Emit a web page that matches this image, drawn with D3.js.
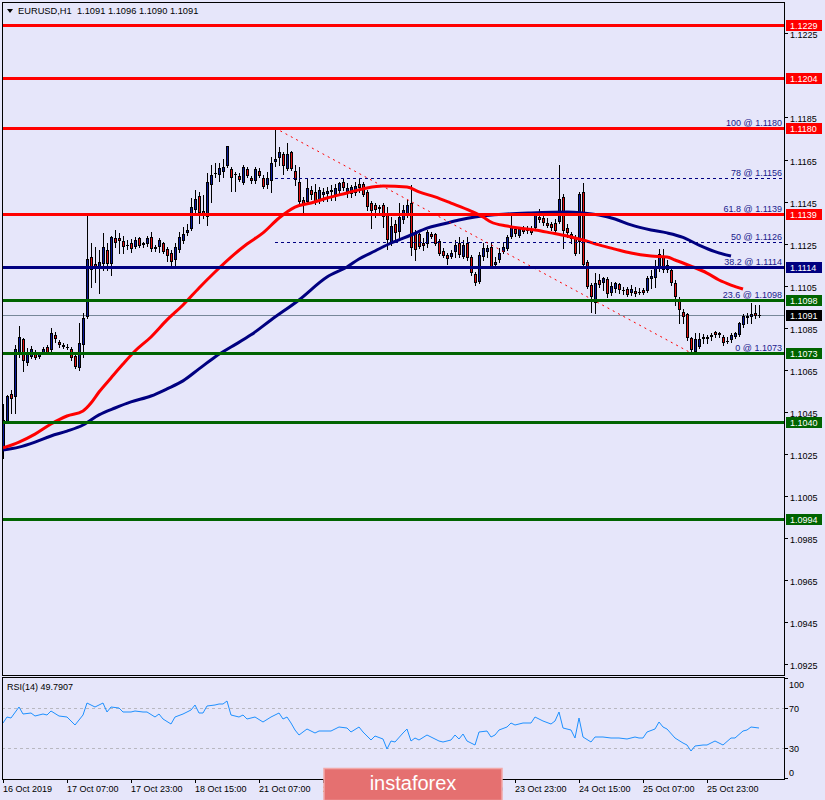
<!DOCTYPE html>
<html><head><meta charset="utf-8">
<script src="https://d3js.org/d3.v7.min.js"></script>
<style>
body{margin:0;background:#E6E6FA;}
svg{display:block;}
text{font-family:"Liberation Sans",Arial,sans-serif;}
</style>
</head><body>
<svg id="c" width="825" height="800"></svg>
<script>
// ---------------- DATA ----------------
const symbolTitle = "EURUSD,H1";
const lastQuote = ["1.1091", "1.1096", "1.1090", "1.1091"];
const rsiTitle = "RSI(14) 49.7907";
const timeLabels = ["16 Oct 2019","17 Oct 07:00","17 Oct 23:00","18 Oct 15:00","21 Oct 07:00","21 Oct 23:00",
  "22 Oct 15:00","23 Oct 07:00","23 Oct 23:00","24 Oct 15:00","25 Oct 07:00","25 Oct 23:00"];
const timeLabelBars = [0,16,32,48,64,80,96,112,128,144,160,176];

const opens = [
1.10268,1.10402,1.10535,1.10521,1.10725,1.10796,1.10682,1.10711,1.10729,1.10711,
1.10729,1.10758,1.10744,1.10816,1.10782,1.10758,1.10758,1.10749,1.10715,1.10658,
1.10768,1.10901,1.11186,1.11153,1.11139,1.11153,1.11220,1.11153,1.11277,1.11277,
1.11263,1.11244,1.11253,1.11234,1.11277,1.11253,1.11248,1.11282,1.11234,1.11234,
1.11253,1.11224,1.11205,1.11172,1.11220,1.11263,1.11301,1.11320,1.11410,1.11477,
1.11405,1.11377,1.11529,1.11586,1.11577,1.11591,1.11619,1.11605,1.11581,1.11572,
1.11538,1.11605,1.11562,1.11548,1.11596,1.11562,1.11529,1.11548,1.11638,1.11657,
1.11676,1.11605,1.11686,1.11596,1.11543,1.11458,1.11448,1.11505,1.11496,1.11453,
1.11481,1.11486,1.11505,1.11481,1.11500,1.11543,1.11496,1.11486,1.11491,1.11534,
1.11534,1.11496,1.11443,1.11434,1.11424,1.11434,1.11396,1.11253,1.11343,1.11305,
1.11362,1.11391,1.11443,1.11305,1.11296,1.11253,1.11248,1.11296,1.11296,1.11263,
1.11215,1.11196,1.11186,1.11210,1.11253,1.11186,1.11253,1.11186,1.11105,1.11067,
1.11186,1.11210,1.11234,1.11148,1.11172,1.11210,1.11224,1.11282,1.11320,1.11286,
1.11324,1.11310,1.11320,1.11324,1.11377,1.11372,1.11348,1.11343,1.11348,1.11353,
1.11472,1.11324,1.11296,1.11282,1.11258,1.11496,1.11162,1.11053,1.10968,1.11077,
1.11062,1.11081,1.11015,1.11034,1.11058,1.11029,1.11034,1.11015,1.11024,1.11019,
1.11029,1.11024,1.11081,1.11086,1.11129,1.11191,1.11148,1.11124,1.11062,1.10986,
1.10925,1.10915,1.10801,1.10735,1.10758,1.10796,1.10806,1.10806,1.10830,1.10825,
1.10806,1.10787,1.10792,1.10806,1.10816,1.10863,1.10896,1.10901,1.10920,1.10910];

const highs = [
1.10487,1.10530,1.10553,1.10768,1.10858,1.10800,1.10753,1.10763,1.10744,1.10734,
1.10758,1.10768,1.10849,1.10830,1.10792,1.10777,1.10772,1.10758,1.10729,1.10873,
1.10920,1.11396,1.11253,1.11234,1.11220,1.11301,1.11253,1.11286,1.11315,1.11301,
1.11286,1.11267,1.11272,1.11282,1.11282,1.11258,1.11286,1.11305,1.11244,1.11277,
1.11258,1.11234,1.11220,1.11253,1.11305,1.11329,1.11343,1.11467,1.11505,1.11496,
1.11481,1.11586,1.11624,1.11633,1.11633,1.11653,1.11716,1.11615,1.11591,1.11586,
1.11624,1.11615,1.11572,1.11615,1.11610,1.11577,1.11591,1.11662,1.11800,1.11710,
1.11686,1.11729,1.11691,1.11624,1.11615,1.11472,1.11562,1.11524,1.11534,1.11519,
1.11515,1.11519,1.11529,1.11534,1.11543,1.11562,1.11538,1.11529,1.11543,1.11562,
1.11543,1.11505,1.11453,1.11443,1.11434,1.11443,1.11424,1.11377,1.11362,1.11443,
1.11434,1.11458,1.11529,1.11315,1.11301,1.11277,1.11315,1.11305,1.11301,1.11272,
1.11229,1.11205,1.11220,1.11267,1.11282,1.11267,1.11282,1.11196,1.11115,1.11210,
1.11253,1.11244,1.11258,1.11186,1.11229,1.11258,1.11291,1.11396,1.11329,1.11329,
1.11334,1.11334,1.11334,1.11396,1.11415,1.11382,1.11372,1.11353,1.11367,1.11624,
1.11486,1.11343,1.11305,1.11291,1.11496,1.11538,1.11172,1.11062,1.11110,1.11105,
1.11091,1.11091,1.11067,1.11067,1.11062,1.11043,1.11043,1.11053,1.11043,1.11038,
1.11038,1.11096,1.11124,1.11172,1.11224,1.11224,1.11172,1.11134,1.11077,1.10996,
1.10939,1.10920,1.10806,1.10825,1.10825,1.10820,1.10816,1.10825,1.10835,1.10830,
1.10816,1.10806,1.10825,1.10830,1.10877,1.10915,1.10920,1.10968,1.10958,1.10960];

const lows = [
1.10230,1.10395,1.10444,1.10444,1.10711,1.10644,1.10673,1.10706,1.10701,1.10706,
1.10725,1.10725,1.10734,1.10782,1.10758,1.10753,1.10749,1.10697,1.10658,1.10649,
1.10711,1.10896,1.11043,1.11067,1.11015,1.11124,1.11124,1.11101,1.11234,1.11205,
1.11205,1.11224,1.11210,1.11229,1.11234,1.11234,1.11239,1.11215,1.11215,1.11210,
1.11205,1.11167,1.11139,1.11139,1.11210,1.11253,1.11291,1.11315,1.11396,1.11348,
1.11372,1.11339,1.11448,1.11567,1.11548,1.11567,1.11615,1.11500,1.11500,1.11548,
1.11534,1.11567,1.11538,1.11538,1.11567,1.11515,1.11515,1.11496,1.11619,1.11624,
1.11581,1.11600,1.11600,1.11529,1.11443,1.11386,1.11443,1.11462,1.11439,1.11443,
1.11453,1.11453,1.11458,1.11458,1.11481,1.11505,1.11472,1.11472,1.11481,1.11496,
1.11477,1.11410,1.11324,1.11377,1.11386,1.11329,1.11224,1.11244,1.11267,1.11267,
1.11348,1.11377,1.11196,1.11172,1.11229,1.11220,1.11234,1.11277,1.11244,1.11196,
1.11186,1.11153,1.11182,1.11186,1.11186,1.11182,1.11172,1.11101,1.11053,1.11062,
1.11172,1.11186,1.11134,1.11139,1.11162,1.11205,1.11220,1.11277,1.11286,1.11282,
1.11301,1.11301,1.11296,1.11320,1.11353,1.11339,1.11329,1.11315,1.11305,1.11348,
1.11229,1.11282,1.11253,1.11196,1.11205,1.11148,1.11038,1.10925,1.10920,1.11043,
1.11029,1.10996,1.11005,1.11019,1.11015,1.11010,1.11001,1.11005,1.11001,1.11010,
1.11010,1.11019,1.11039,1.11043,1.11119,1.11115,1.11115,1.11053,1.10958,1.10873,
1.10873,1.10792,1.10730,1.10732,1.10753,1.10777,1.10777,1.10792,1.10806,1.10806,
1.10768,1.10777,1.10782,1.10801,1.10811,1.10854,1.10873,1.10873,1.10896,1.10900];

const closes = [
1.10410,1.10525,1.10511,1.10749,1.10806,1.10692,1.10729,1.10749,1.10706,1.10725,
1.10749,1.10729,1.10825,1.10796,1.10768,1.10768,1.10758,1.10706,1.10663,1.10777,
1.10896,1.11177,1.11124,1.11134,1.11162,1.11234,1.11153,1.11282,1.11253,1.11263,
1.11234,1.11244,1.11224,1.11267,1.11239,1.11244,1.11277,1.11224,1.11224,1.11267,
1.11210,1.11191,1.11162,1.11234,1.11282,1.11296,1.11315,1.11424,1.11462,1.11396,
1.11382,1.11543,1.11577,1.11586,1.11610,1.11615,1.11714,1.11562,1.11581,1.11553,
1.11615,1.11572,1.11548,1.11605,1.11572,1.11519,1.11562,1.11633,1.11653,1.11686,
1.11619,1.11676,1.11605,1.11553,1.11448,1.11439,1.11515,1.11481,1.11448,1.11505,
1.11496,1.11500,1.11496,1.11515,1.11538,1.11515,1.11515,1.11519,1.11524,1.11515,
1.11481,1.11424,1.11405,1.11410,1.11415,1.11377,1.11267,1.11334,1.11301,1.11377,
1.11410,1.11434,1.11229,1.11220,1.11234,1.11239,1.11305,1.11282,1.11248,1.11201,
1.11191,1.11177,1.11205,1.11244,1.11196,1.11244,1.11182,1.11110,1.11062,1.11196,
1.11229,1.11229,1.11139,1.11162,1.11205,1.11234,1.11282,1.11329,1.11296,1.11320,
1.11305,1.11324,1.11301,1.11386,1.11362,1.11348,1.11334,1.11324,1.11310,1.11462,
1.11310,1.11301,1.11272,1.11201,1.11486,1.11148,1.11043,1.10996,1.11062,1.11053,
1.11086,1.11010,1.11048,1.11062,1.11029,1.11029,1.11005,1.11034,1.11010,1.11019,
1.11015,1.11086,1.11096,1.11139,1.11201,1.11124,1.11124,1.11062,1.10996,1.10934,
1.10901,1.10801,1.10744,1.10796,1.10796,1.10806,1.10796,1.10816,1.10816,1.10816,
1.10777,1.10787,1.10816,1.10825,1.10873,1.10906,1.10906,1.10915,1.10906,1.10910];

// moving averages (at these bars)
const redMaBars = [0,4,8,12,16,20,22,24,27,30,33,37,41,45,49,53,57,61,65,69,73,77,81,86,91,95,101,104,108,112,117,120,122,126,129,133,137,141,145,149,153,157,162,166,168,172,176,179,182,185];
const redMaVals = [1.10278,1.10306,1.10344,1.10392,1.10430,1.10454,1.10492,1.10544,1.10611,1.10677,1.10739,1.10806,1.10887,1.10958,1.11039,1.11115,1.11186,1.11248,1.11301,1.11372,1.11424,1.11443,1.11467,1.11491,1.11515,1.11524,1.11519,1.11496,1.11472,1.11443,1.11405,1.11377,1.11353,1.11334,1.11324,1.11315,1.11301,1.11286,1.11267,1.11244,1.11224,1.11205,1.11191,1.11186,1.11172,1.11143,1.11110,1.11077,1.11053,1.11034];
const navyMaBars = [0,4,8,12,16,20,24,28,32,37,41,45,49,53,57,62,67,74,81,86,89,93,97,102,106,110,114,118,126,132,141,145,149,153,157,162,166,170,174,178,182];
const navyMaVals = [1.10268,1.10282,1.10306,1.10335,1.10358,1.10387,1.10435,1.10468,1.10497,1.10525,1.10559,1.10597,1.10654,1.10711,1.10758,1.10816,1.10887,1.10982,1.11091,1.11139,1.11177,1.11215,1.11253,1.11291,1.11324,1.11343,1.11362,1.11377,1.11391,1.11396,1.11400,1.11396,1.11386,1.11367,1.11339,1.11315,1.11301,1.11280,1.11243,1.11212,1.11191];

// RSI(14)
const rsiBars = [0,1,2,4,5,7,8,10,11,12,14,16,18,20,21,23,25,26,27,29,30,32,33,35,36,38,39,40,42,43,45,47,48,49,50,51,53,54,55,56,57,59,60,61,63,65,67,69,70,71,72,73,74,76,78,79,82,84,86,87,89,90,92,93,95,96,97,98,100,101,102,103,104,106,107,109,110,112,113,114,115,116,118,119,121,122,123,124,126,127,128,130,132,133,135,137,138,139,140,142,143,144,145,147,148,150,152,154,156,158,159,160,161,163,164,165,166,168,170,171,172,173,175,176,178,180,182,183,185,186,187,189];
const rsiVals = [55,61,60,71,64,65,62,64,63,67,62,61,53,63,75,71,75,66,71,70,66,66,67,66,66,61,64,59,54,61,64,68,73,65,65,72,73,74,74,77,63,61,63,59,61,56,61,65,59,61,55,48,43,49,45,47,47,51,50,46,51,46,38,42,39,29,37,36,45,49,37,40,38,43,41,37,36,38,43,39,44,37,33,46,47,41,43,48,51,55,53,55,55,61,57,54,57,66,50,48,40,60,41,36,41,41,40,40,39,41,40,40,46,49,56,51,49,40,35,33,27,32,33,33,37,33,40,40,47,48,51,50];
const rsiTicks = [100,70,30,0];
const rsiLevels = [70,30];

// horizontal levels
const redLevels = [1.1229,1.1204,1.1180,1.1139];
const navyLevels = [1.1114];
const greenLevels = [1.1098,1.1073,1.1040,1.0994];
const bidPrice = 1.1091;
const priceTicks = [1.0925,1.0945,1.0965,1.0985,1.1005,1.1025,1.1045,1.1065,1.1085,1.1105,1.1125,1.1145,1.1165,1.1185,1.1225];

// fibonacci retracement
const fibRatios = ["100","78","61.8","50","38.2","23.6","0"];
const fibPrices = [1.1180,1.1156,1.1139,1.1126,1.1114,1.1098,1.1073];
const fibStartBar = 68, fibEndBar = 172;

// ---------------- CHART ----------------
const W = 825, H = 800;
const L = 2, R = 784, mainT = 2, mainB = 675, rsiT = 677, rsiB = 779;
const BG = "#E6E6FA";
const svg = d3.select("#c");
svg.append("rect").attr("width", W).attr("height", H).attr("fill", BG);

const x = d3.scaleLinear().domain([0, 189]).range([3, 759]);
const y = d3.scaleLinear().domain([1.0994, 1.1229]).range([519, 25]);
const yR = d3.scaleLinear().domain([0, 100]).range([778, 678]);

const defs = svg.append("defs");
defs.append("clipPath").attr("id", "mc").append("rect")
  .attr("x", L + 1).attr("y", mainT + 1).attr("width", R - L - 1).attr("height", mainB - mainT - 1);
defs.append("clipPath").attr("id", "rc").append("rect")
  .attr("x", L + 1).attr("y", rsiT + 1).attr("width", R - L - 1).attr("height", rsiB - rsiT - 1);

const gm = svg.append("g").attr("clip-path", "url(#mc)");
const gr = svg.append("g").attr("clip-path", "url(#rc)");

// bid line
gm.append("line").attr("x1", L).attr("x2", R)
  .attr("y1", Math.round(y(bidPrice)) + 0.5).attr("y2", Math.round(y(bidPrice)) + 0.5)
  .attr("stroke", "#778899").attr("stroke-width", 1);

// candles
const bars = d3.range(opens.length).map(i => ({i, o: opens[i], h: highs[i], l: lows[i], c: closes[i]}));
const gc = gm.append("g");
bars.forEach(d => {
  const cx = Math.round(x(d.i));
  gc.append("line").attr("x1", cx + 0.5).attr("x2", cx + 0.5)
    .attr("y1", Math.round(y(d.h))).attr("y2", Math.round(y(d.l)) + 1)
    .attr("stroke", "#000").attr("stroke-width", 1);
  const top = Math.round(y(Math.max(d.o, d.c)));
  const bot = Math.round(y(Math.min(d.o, d.c)));
  if (bot - top >= 2) {
    gc.append("rect").attr("x", cx - 0.5).attr("y", top + 0.5)
      .attr("width", 2).attr("height", bot - top - 1)
      .attr("fill", d.c >= d.o ? "#0a1a9a" : "#e01010")
      .attr("stroke", "#000").attr("stroke-width", 1);
  } else {
    gc.append("line").attr("x1", cx - 1).attr("x2", cx + 2)
      .attr("y1", top + 0.5).attr("y2", top + 0.5)
      .attr("stroke", "#000").attr("stroke-width", 1);
  }
});

// moving averages
const maLine = d3.line().x(d => x(d[0])).y(d => y(d[1])).curve(d3.curveMonotoneX);
gm.append("path").datum(navyMaBars.map((b, k) => [b, navyMaVals[k]]))
  .attr("d", maLine).attr("fill", "none").attr("stroke", "#000080").attr("stroke-width", 3);
gm.append("path").datum(redMaBars.map((b, k) => [b, redMaVals[k]]))
  .attr("d", maLine).attr("fill", "none").attr("stroke", "#ff0000").attr("stroke-width", 3);

// fibonacci level rays
fibPrices.forEach((p, k) => {
  const yy = Math.round(y(p)) + 0.5;
  gm.append("line").attr("x1", x(fibStartBar)).attr("x2", R)
    .attr("y1", yy).attr("y2", yy)
    .attr("stroke", "#000080").attr("stroke-width", 1).attr("stroke-dasharray", "3,3");
});
// fib trendline
gm.append("line")
  .attr("x1", x(fibStartBar)).attr("y1", y(fibPrices[0]))
  .attr("x2", x(fibEndBar)).attr("y2", y(fibPrices[fibPrices.length - 1]))
  .attr("stroke", "#ff0000").attr("stroke-width", 1).attr("stroke-dasharray", "2,4");

// horizontal lines
function hLine(p, col) {
  const yy = Math.round(y(p)) + 0.5;
  gm.append("line").attr("x1", L).attr("x2", R).attr("y1", yy).attr("y2", yy)
    .attr("stroke", col).attr("stroke-width", 3);
}
redLevels.forEach(p => hLine(p, "#ff0000"));
navyLevels.forEach(p => hLine(p, "#000080"));
greenLevels.forEach(p => hLine(p, "#006400"));

// fib labels
fibPrices.forEach((p, k) => {
  gm.append("text").attr("x", R - 2).attr("y", Math.round(y(p)) - 2)
    .attr("text-anchor", "end").attr("font-size", "9px").attr("fill", "#1a1a8c")
    .text(fibRatios[k] + " @ " + p.toFixed(4));
});

// header
svg.append("path").attr("d", "M7,9 L13,9 L10,13 Z").attr("fill", "#000");
svg.append("text").attr("x", 18).attr("y", 14).attr("font-size", "9.3px").attr("fill", "#000")
  .attr("xml:space", "preserve")
  .text(symbolTitle + "  " + lastQuote.join(" "));

// RSI panel
rsiLevels.forEach(v => {
  gr.append("line").attr("x1", L).attr("x2", R)
    .attr("y1", yR(v) + 0.5).attr("y2", yR(v) + 0.5)
    .attr("stroke", "#b8b8c0").attr("stroke-width", 1).attr("stroke-dasharray", "3,3");
});
gr.append("path").datum(rsiBars.map((b, k) => [b, rsiVals[k]]))
  .attr("d", d3.line().x(d => x(d[0])).y(d => yR(d[1])))
  .attr("fill", "none").attr("stroke", "#1e90ff").attr("stroke-width", 1);
svg.append("text").attr("x", 7).attr("y", 690).attr("font-size", "9px").attr("fill", "#000").text(rsiTitle);

// frames
const fr = svg.append("g").attr("stroke", "#000").attr("stroke-width", 1).attr("fill", "none");
fr.append("rect").attr("x", L + 0.5).attr("y", mainT + 0.5).attr("width", R - L).attr("height", mainB - mainT);
fr.append("rect").attr("x", L + 0.5).attr("y", rsiT + 0.5).attr("width", R - L).attr("height", rsiB - rsiT);

// right price axis
priceTicks.forEach(t => {
  const yy = Math.round(y(t)) + 0.5;
  svg.append("line").attr("x1", R).attr("x2", R + 4).attr("y1", yy).attr("y2", yy).attr("stroke", "#000");
  svg.append("text").attr("x", 790).attr("y", yy + 4.5).attr("font-size", "9px").attr("fill", "#000")
    .text(t.toFixed(4));
});
function priceBox(p, col) {
  const yy = Math.round(y(p));
  svg.append("rect").attr("x", 786).attr("y", yy - 5).attr("width", 36).attr("height", 11).attr("fill", col);
  svg.append("text").attr("x", 790).attr("y", yy + 4).attr("font-size", "9px").attr("fill", "#fff")
    .text(p.toFixed(4));
}
redLevels.forEach(p => priceBox(p, "#ff0000"));
navyLevels.forEach(p => priceBox(p, "#000080"));
greenLevels.forEach(p => priceBox(p, "#006400"));
priceBox(bidPrice, "#000");

// RSI axis
rsiTicks.forEach(v => {
  const yy = Math.max(684, Math.min(772, yR(v)));
  svg.append("line").attr("x1", R).attr("x2", R + 4).attr("y1", Math.round(yR(v)) + 0.5).attr("y2", Math.round(yR(v)) + 0.5).attr("stroke", "#000");
  svg.append("text").attr("x", 789).attr("y", yy + 3.5).attr("font-size", "9px").attr("fill", "#000").text(v);
});

// time axis
timeLabelBars.forEach((b, k) => {
  const xx = Math.round(x(b)) + 0.5;
  svg.append("line").attr("x1", xx).attr("x2", xx).attr("y1", rsiB).attr("y2", rsiB + 4).attr("stroke", "#000");
  svg.append("text").attr("x", xx - 0.5).attr("y", 792).attr("font-size", "9px").attr("fill", "#000").text(timeLabels[k]);
});

// watermark logo
svg.append("rect").attr("x", 324).attr("y", 768.5).attr("width", 178).attr("height", 32)
  .attr("fill", "#e57070").attr("stroke", "#f2a8a8").attr("stroke-width", 1.5);
svg.append("text").attr("x", 413).attr("y", 790).attr("text-anchor", "middle")
  .attr("font-size", "20px").attr("fill", "#fff").text("instaforex");
</script>
</body></html>
